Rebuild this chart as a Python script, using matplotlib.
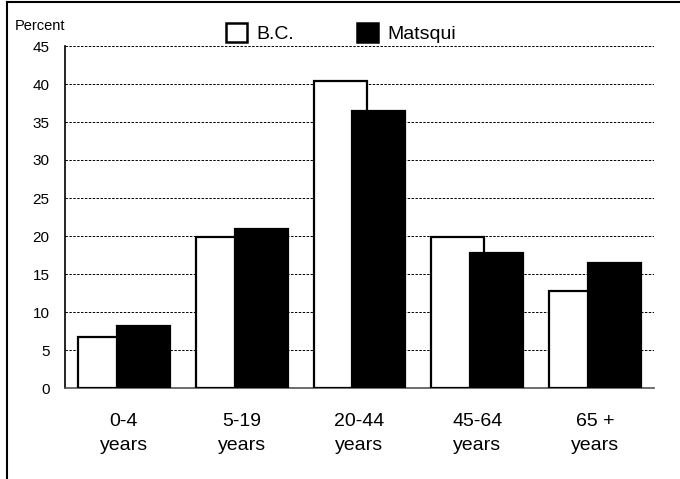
import numpy as np
import matplotlib.pyplot as plt
from matplotlib.lines import Line2D
from matplotlib.patches import Patch

plt.rcParams['font.family'] = ['Liberation Sans', 'DejaVu Sans']

categories = ['0-4\nyears', '5-19\nyears', '20-44\nyears', '45-64\nyears', '65 +\nyears']
bc = [6.7, 19.9, 40.4, 19.9, 12.8]
matsqui = [8.1, 20.9, 36.4, 17.8, 16.4]

fig = plt.figure(figsize=(6.8, 4.79), dpi=100)
ax = fig.add_axes([65 / 680, 1 - 388 / 479, (654 - 65) / 680, (388 - 46) / 479])

x = np.arange(len(categories))
w = 0.45
off = 0.165
ax.bar(x - off, bc, w, color='white', edgecolor='black', linewidth=1.6, zorder=3, label='B.C.')
ax.bar(x + off, matsqui, w, color='black', edgecolor='black', linewidth=1.6, zorder=4, label='Matsqui')

ax.set_ylim(0, 45)
ax.set_xlim(-0.5, 4.5)
ax.set_yticks(range(0, 46, 5))
ax.set_xticks(x)
ax.set_xticklabels(categories, fontsize=14, linespacing=1.55)
ax.tick_params(axis='y', length=0, labelsize=11, pad=11)
ax.tick_params(axis='x', length=0, pad=18)
ax.yaxis.grid(True, linestyle=(0, (2.5, 1.5)), color='black', linewidth=0.7)
ax.set_axisbelow(True)
for s in ['top', 'right']:
    ax.spines[s].set_visible(False)
ax.spines['left'].set_linewidth(1.2)
ax.spines['bottom'].set_color('#555555')
ax.spines['bottom'].set_linewidth(1.2)

fig.text(15 / 680, 1 - 26 / 479, 'Percent', fontsize=10.5, va='center', ha='left')

handles = [Patch(facecolor='white', edgecolor='black', linewidth=1.8),
           Patch(facecolor='black', edgecolor='black', linewidth=1.8)]
fig.legend(handles, ['B.C.', 'Matsqui'], loc='center', bbox_to_anchor=(341 / 680, 1 - 33 / 479),
           ncol=2, frameon=False, fontsize=14, handlelength=1.1, handleheight=1.1,
           columnspacing=3.2, handletextpad=0.5, borderpad=0)

# outer frame lines (top and left)
fig.add_artist(Line2D([7 / 680, 1], [1 - 1.5 / 479, 1 - 1.5 / 479], color='black', linewidth=1.5))
fig.add_artist(Line2D([7 / 680, 7 / 680], [0, 1 - 1.5 / 479], color='black', linewidth=1.5))

fig.savefig('out.png', dpi=100)
